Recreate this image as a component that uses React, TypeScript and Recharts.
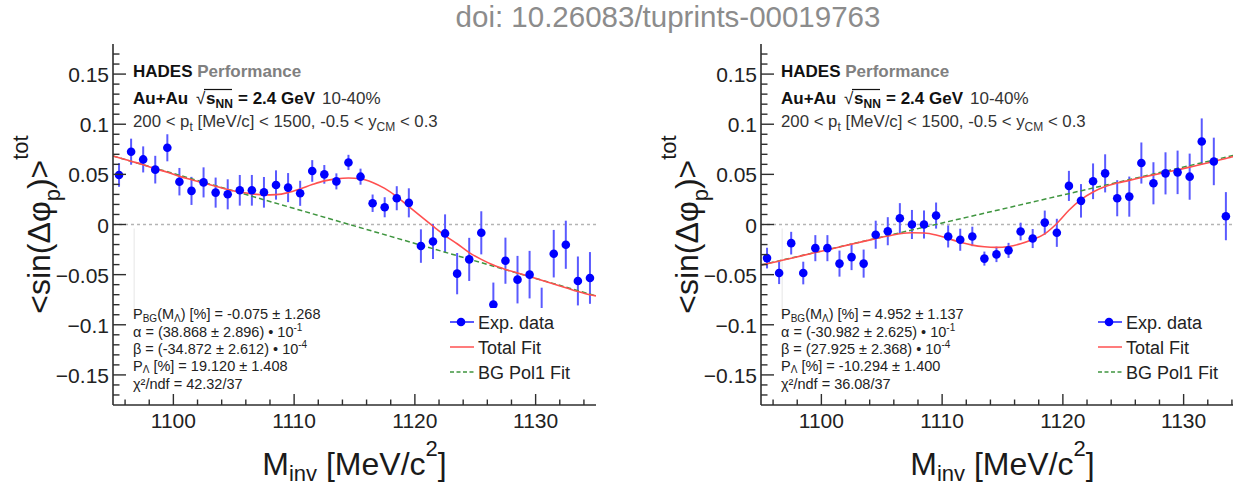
import React from 'react';
import { ComposedChart, Scatter, Line, XAxis, YAxis, ErrorBar, ReferenceLine, Legend } from 'recharts';

// ---------------- data ----------------
const massBins = [
  1095.5, 1096.5, 1097.5, 1098.5, 1099.5, 1100.5, 1101.5, 1102.5, 1103.5, 1104.5,
  1105.5, 1106.5, 1107.5, 1108.5, 1109.5, 1110.5, 1111.5, 1112.5, 1113.5, 1114.5,
  1115.5, 1116.5, 1117.5, 1118.5, 1119.5, 1120.5, 1121.5, 1122.5, 1123.5, 1124.5,
  1125.5, 1126.5, 1127.5, 1128.5, 1129.5, 1130.5, 1131.5, 1132.5, 1133.5, 1134.5,
];

const leftValues = [
  0.0494, 0.0726, 0.0649, 0.0547, 0.0765, 0.0427, 0.0335, 0.042, 0.0318, 0.0301,
  0.0341, 0.0341, 0.0321, 0.0394, 0.0368, 0.0311, 0.0534, 0.05, 0.043, 0.0619,
  0.0477, 0.0212, 0.0172, 0.0262, 0.0216, -0.0215, -0.0169, -0.0089, -0.049, -0.0348,
  -0.0083, -0.0799, -0.0361, -0.055, -0.05, -0.088, -0.0291, -0.0202, -0.0563, -0.0533,
];
const leftErrors = [
  0.0118, 0.013, 0.013, 0.0138, 0.0135, 0.0137, 0.014, 0.015, 0.015, 0.015,
  0.0153, 0.0153, 0.0153, 0.0146, 0.0145, 0.0125, 0.0108, 0.0093, 0.008, 0.0076,
  0.008, 0.0087, 0.01, 0.012, 0.0145, 0.0167, 0.0175, 0.019, 0.0206, 0.0215,
  0.0215, 0.022, 0.023, 0.0237, 0.0237, 0.025, 0.0237, 0.024, 0.0244, 0.0258,
];

const rightValues = [
  -0.0335, -0.0484, -0.0186, -0.0484, -0.0236, -0.0236, -0.039, -0.0325, -0.039, -0.0102,
  -0.0067, 0.0063, 0.0, 0.0, 0.0089, -0.0119, -0.0152, -0.0119, -0.034, -0.0298,
  -0.0258, -0.007, -0.014, 0.0019, -0.0083, 0.0385, 0.0236, 0.0431, 0.051, 0.0262,
  0.0278, 0.0613, 0.0411, 0.051, 0.052, 0.0477, 0.0828, 0.0629, 0.0083,
];
const rightErrors = [
  0.0103, 0.011, 0.0113, 0.0113, 0.013, 0.013, 0.013, 0.013, 0.014, 0.014,
  0.014, 0.015, 0.0145, 0.014, 0.013, 0.011, 0.011, 0.0097, 0.007, 0.0077,
  0.0075, 0.0088, 0.0095, 0.012, 0.014, 0.015, 0.0167, 0.0178, 0.019, 0.018,
  0.02, 0.0205, 0.021, 0.021, 0.0217, 0.023, 0.023, 0.0237, 0.024,
];

const fitMass = [
  1095, 1095.5, 1096.5, 1097.5, 1098.5, 1099.5, 1100.5, 1101.5, 1102.5, 1103.5, 1104.5,
  1105.5, 1106.5, 1107.5, 1108.5, 1109.5, 1110.5, 1111.5, 1112.5, 1113.5, 1114.5,
  1115.5, 1116.5, 1117.5, 1118.5, 1119.5, 1120.5, 1121.5, 1122.5, 1123.5, 1124.5,
  1125.5, 1126.5, 1127.5, 1128.5, 1129.5, 1130.5, 1131.5, 1132.5, 1133.5, 1134.5, 1135,
];
const leftTotalFit = [
  0.0683, 0.0666, 0.0631, 0.0596, 0.0556, 0.0522, 0.048, 0.0446, 0.0413, 0.0382, 0.035,
  0.0324, 0.0305, 0.0295, 0.0298, 0.0318, 0.0355, 0.0398, 0.0435, 0.0455, 0.0463,
  0.0456, 0.042, 0.036, 0.0278, 0.0179, 0.008, -0.0017, -0.011, -0.0192, -0.028,
  -0.0348, -0.0405, -0.0448, -0.0484, -0.0519, -0.0556, -0.0593, -0.063, -0.0668, -0.07, -0.0712,
];
const rightTotalFit = [
  -0.0404, -0.0392, -0.0364, -0.0336, -0.0308, -0.028, -0.0252, -0.0224, -0.0196, -0.0168, -0.0141,
  -0.0115, -0.0093, -0.0082, -0.0085, -0.0105, -0.014, -0.0178, -0.0206, -0.0222, -0.0228,
  -0.0219, -0.0192, -0.015, -0.0093, 0.001, 0.0142, 0.0248, 0.0324, 0.038, 0.0413,
  0.044, 0.0468, 0.0495, 0.052, 0.0545, 0.0572, 0.06, 0.063, 0.0659, 0.0688, 0.07,
];
const bgMass = [1095, 1135];
const leftBgFit = [0.0683, -0.0712];
const rightBgFit = [-0.0404, 0.0713];

const xMajorTicks = [1100, 1110, 1120, 1130];
const xTickLabels = ['1100', '1110', '1120', '1130'];
const xMinorTicks = [1096, 1098, 1102, 1104, 1106, 1108, 1112, 1114, 1116, 1118, 1122, 1124, 1126, 1128, 1132, 1134];
const yMajorTicks = [-0.15, -0.1, -0.05, 0, 0.05, 0.1, 0.15];
const yTickLabels = ['\u22120.15', '\u22120.1', '\u22120.05', '0', '0.05', '0.1', '0.15'];
const yMinorTicks = [
  -0.17, -0.16, -0.14, -0.13, -0.12, -0.11, -0.09, -0.08, -0.07, -0.06, -0.04, -0.03, -0.02, -0.01,
  0.01, 0.02, 0.03, 0.04, 0.06, 0.07, 0.08, 0.09, 0.11, 0.12, 0.13, 0.14, 0.16, 0.17,
];

const leftParams = ['-0.075 \u00b1 1.268', '(38.868 \u00b1 2.896)', '-1', '(-34.872 \u00b1 2.612)', '-4', '19.120 \u00b1 1.408', '42.32/37'];
const rightParams = ['4.952 \u00b1 1.137', '(-30.982 \u00b1 2.625)', '-1', '(27.925 \u00b1 2.368)', '-4', '-10.294 \u00b1 1.400', '36.08/37'];

// ---------------- styling ----------------
const FONT = '"Liberation Sans", Arial, Helvetica, sans-serif';
const AX = '#2e2e2e';
const xAllTicks = [...xMajorTicks, ...xMinorTicks].sort((a, b) => a - b);
const yAllTicks = [...yMajorTicks, ...yMinorTicks].sort((a, b) => a - b);
const findIdx = (arr: number[], v: number) => arr.findIndex((t) => Math.abs(t - v) < 1e-9);

const bottomTick = (props: any) => {
  const { x, y, payload } = props;
  const idx = findIdx(xMajorTicks, payload.value);
  const major = idx >= 0;
  return (
    <g>
      <line x1={x} x2={x} y1={y} y2={y - (major ? 11 : 5.5)} stroke={AX} strokeWidth={1.4} />
      {major && (
        <text x={x} y={y + 23} textAnchor="middle" fontSize={21} fill="#222" fontFamily={FONT}>
          {xTickLabels[idx]}
        </text>
      )}
    </g>
  );
};
const topTick = (props: any) => {
  const { x, y, payload } = props;
  const major = findIdx(xMajorTicks, payload.value) >= 0;
  return <line x1={x} x2={x} y1={y} y2={y + (major ? 11 : 5.5)} stroke={AX} strokeWidth={1.4} />;
};
const leftTick = (props: any) => {
  const { x, y, payload } = props;
  const idx = findIdx(yMajorTicks, payload.value);
  const major = idx >= 0;
  return (
    <g>
      <line x1={x} x2={x + (major ? 13 : 6.5)} y1={y} y2={y} stroke={AX} strokeWidth={1.4} />
      {major && (
        <text x={x - 4} y={y + 8} textAnchor="end" fontSize={21} fill="#222" fontFamily={FONT}>
          {yTickLabels[idx]}
        </text>
      )}
    </g>
  );
};
const rightTick = (props: any) => {
  const { x, y, payload } = props;
  const major = findIdx(yMajorTicks, payload.value) >= 0;
  return <line x1={x} x2={x - (major ? 13 : 6.5)} y1={y} y2={y} stroke={AX} strokeWidth={1.4} />;
};

const dotShape = (p: any) => <circle cx={p.cx} cy={p.cy} r={4.3} fill="#0000ff" />;

const legendContent = () => (
  <svg width={141} height={84} style={{ display: 'block' }}>
    <line x1={9} x2={33} y1={14} y2={14} stroke="#2020ff" strokeWidth={1.5} />
    <circle cx={20} cy={14} r={4.3} fill="#0000ff" />
    <text x={37} y={20.5} fontSize={18} fontFamily={FONT} fill="#222">Exp. data</text>
    <line x1={9} x2={33} y1={39} y2={39} stroke="#ff5050" strokeWidth={1.5} />
    <text x={37} y={45.5} fontSize={18} fontFamily={FONT} fill="#222">Total Fit</text>
    <line x1={9} x2={33} y1={64} y2={64} stroke="#3f953f" strokeWidth={1.5} strokeDasharray="4 2.5" />
    <text x={37} y={70.5} fontSize={18} fontFamily={FONT} fill="#222">BG Pol1 Fit</text>
  </svg>
);

type PanelProps = {
  left: number;
  values: number[];
  errors: number[];
  totalFit: number[];
  bgFit: number[];
};

function Panel({ left, values, errors, totalFit, bgFit }: PanelProps) {
  const points = values.map((v, i) => ({ x: massBins[i], y: v, err: errors[i] }));
  const fitData = fitMass.map((m, i) => ({ x: m, y: totalFit[i] }));
  const bgData = bgMass.map((m, i) => ({ x: m, y: bgFit[i] }));
  const axisLine = { stroke: AX, strokeWidth: 1.6 };
  return (
    <div style={{ position: 'absolute', left, top: 0 }}>
      <ComposedChart width={621} height={486} margin={{ top: 44, right: 25, bottom: 0, left: 0 }}>
        <XAxis
          type="number" dataKey="x" domain={[1095, 1135]} allowDataOverflow ticks={xAllTicks} interval={0}
          tickSize={0} tickMargin={0} tickLine={false} axisLine={axisLine} height={81} tick={bottomTick}
        />
        <XAxis
          xAxisId="top" orientation="top" type="number" domain={[1095, 1135]} allowDataOverflow ticks={xAllTicks}
          interval={0} tickSize={0} tickMargin={0} tickLine={false} axisLine={axisLine} height={0} tick={topTick}
        />
        <YAxis
          type="number" dataKey="y" domain={[-0.18, 0.18]} allowDataOverflow ticks={yAllTicks} interval={0}
          tickSize={0} tickMargin={0} tickLine={false} axisLine={axisLine} width={113} tick={leftTick}
        />
        <YAxis
          yAxisId="right" orientation="right" type="number" domain={[-0.18, 0.18]} allowDataOverflow ticks={yAllTicks}
          interval={0} tickSize={0} tickMargin={0} tickLine={false} axisLine={axisLine} width={0} tick={rightTick}
        />
        <ReferenceLine y={0} stroke="#b4b4b4" strokeDasharray="3 3" strokeWidth={1.6} />
        <ReferenceLine
          segment={[{ x: 1096.75, y: -0.004 }, { x: 1096.75, y: -0.09 }]}
          stroke="#e6e6e6" strokeWidth={1}
        />
        <Scatter data={points} dataKey="y" shape={dotShape} isAnimationActive={false} legendType="none">
          <ErrorBar dataKey="err" direction="y" width={0} stroke="#5a5aff" strokeWidth={2} />
        </Scatter>
        <Line
          data={bgData} dataKey="y" type="linear" stroke="#3f953f" strokeWidth={1.5} strokeDasharray="5 3"
          dot={false} activeDot={false} isAnimationActive={false}
        />
        <Line
          data={fitData} dataKey="y" type="monotone" stroke="#ff5050" strokeWidth={1.6}
          dot={false} activeDot={false} isAnimationActive={false}
        />
        <Legend
          layout="vertical" align="center" verticalAlign="middle" content={legendContent}
          wrapperStyle={{ position: 'absolute', left: 441, top: 308, width: 141, height: 84, background: '#fff' }}
        />
      </ComposedChart>
    </div>
  );
}

function PanelText({ pl, cx, p }: { pl: number; cx: number; p: string[] }) {
  const tx = pl + 20;
  const sub = 10;
  return (
    <g fontFamily={FONT}>
      <text x={tx} y={77} fontSize={17} fontWeight="bold">
        <tspan fill="#111">HADES</tspan>
        <tspan fill="#808080"> Performance</tspan>
      </text>
      <text y={104} fontSize={17} fill="#111">
        <tspan x={tx} fontWeight="bold">Au+Au</tspan>
        <tspan x={tx + 63}>{'\u221a'}</tspan>
        <tspan x={tx + 73} fontWeight="bold">s</tspan>
        <tspan dy={4} fontSize={12} fontWeight="bold">NN</tspan>
        <tspan x={tx + 105} dy={-4} fontWeight="bold">= 2.4 GeV</tspan>
        <tspan x={tx + 189} fill="#333">10-40%</tspan>
      </text>
      <line x1={tx + 71} x2={tx + 99} y1={89.5} y2={89.5} stroke="#111" strokeWidth={1.2} />
      <text x={tx} y={127} fontSize={16.8} fill="#333">
        200 &lt; p<tspan dy={4} fontSize={12}>t</tspan>
        <tspan dy={-4}> [MeV/c] &lt; 1500, -0.5 &lt; y</tspan>
        <tspan dy={4} fontSize={12}>CM</tspan>
        <tspan dy={-4}> &lt; 0.3</tspan>
      </text>

      <text x={tx} y={319} fontSize={14.5} fill="#222">
        P<tspan dy={3} fontSize={sub}>BG</tspan>
        <tspan dy={-3}>(M</tspan>
        <tspan dy={3} fontSize={sub}>{'\u039b'}</tspan>
        <tspan dy={-3}>{') [%] = ' + p[0]}</tspan>
      </text>
      <text x={tx} y={337} fontSize={14.5} fill="#222">
        {'\u03b1 = ' + p[1] + ' \u2022 10'}
        <tspan dy={-6} fontSize={sub}>{p[2]}</tspan>
      </text>
      <text x={tx} y={354} fontSize={14.5} fill="#222">
        {'\u03b2 = ' + p[3] + ' \u2022 10'}
        <tspan dy={-6} fontSize={sub}>{p[4]}</tspan>
      </text>
      <text x={tx} y={371} fontSize={14.5} fill="#222">
        P<tspan dy={2} fontSize={sub}>{'\u039b'}</tspan>
        <tspan dy={-2}>{' [%] = ' + p[5]}</tspan>
      </text>
      <text x={tx} y={389} fontSize={14.5} fill="#222">
        {'\u03c7\u00b2/ndf  = ' + p[6]}
      </text>

      <text x={cx} y={475} textAnchor="middle" fontSize={32} fill="#1a1a1a">
        M<tspan dy={6} fontSize={22}>inv</tspan>
        <tspan dy={-6}> [MeV/c</tspan>
        <tspan dy={-19} fontSize={22}>2</tspan>
        <tspan dy={19}>]</tspan>
      </text>
      <text transform={`translate(${pl - 63},224.5) rotate(-90)`} textAnchor="middle" fontSize={32} fill="#1a1a1a">
        {'<sin(\u0394\u03c6'}
        <tspan dy={10} fontSize={22}>p</tspan>
        <tspan dy={-10}>{')>'}</tspan>
        <tspan dy={-22} fontSize={22}>tot</tspan>
      </text>
    </g>
  );
}

export default function App() {
  return (
    <div style={{ position: 'absolute', left: 0, top: 0, width: 1233, height: 486, overflow: 'hidden', background: '#fff' }}>
      <Panel left={0} values={leftValues} errors={leftErrors} totalFit={leftTotalFit} bgFit={leftBgFit} />
      <Panel left={648} values={rightValues} errors={rightErrors} totalFit={rightTotalFit} bgFit={rightBgFit} />
      <svg width={1233} height={486} style={{ position: 'absolute', left: 0, top: 0, pointerEvents: 'none' }}>
        <text x={668} y={27} textAnchor="middle" fontSize={29.5} fill="#8c8c8c" fontFamily={FONT}>
          doi: 10.26083/tuprints-00019763
        </text>
        <PanelText pl={113} cx={354.5} p={leftParams} />
        <PanelText pl={761} cx={1002.5} p={rightParams} />
      </svg>
    </div>
  );
}
